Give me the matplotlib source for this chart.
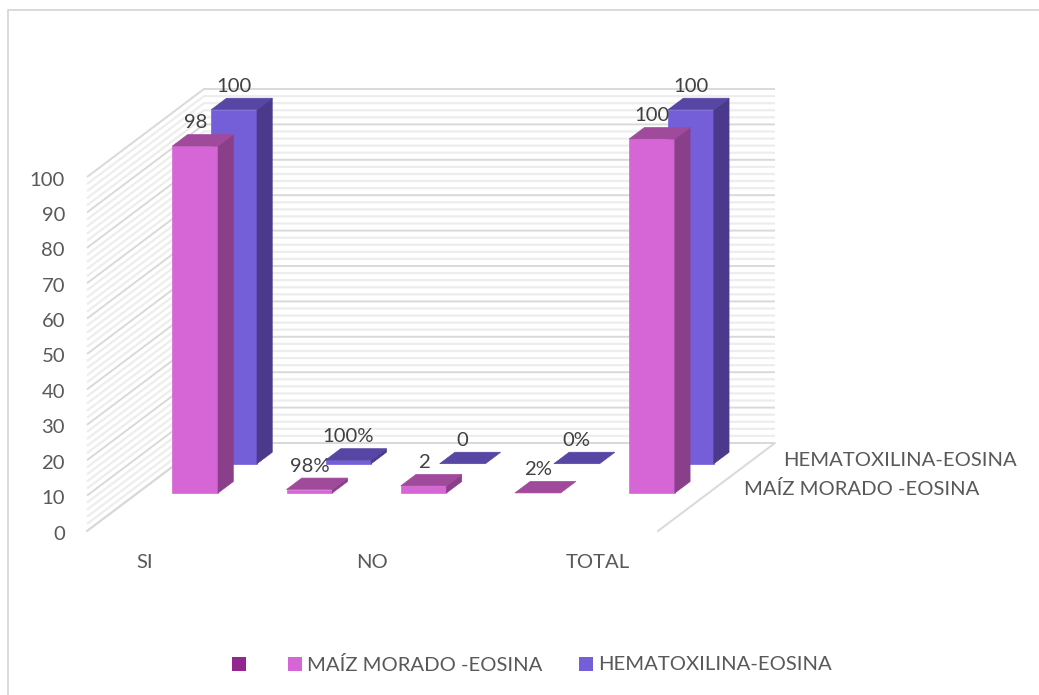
"""
Grafico de barras 3D: MAIZ MORADO vs HEMATOXILINA (estilo Excel)
"""
import matplotlib
matplotlib.use('Agg')
import matplotlib.pyplot as plt
from matplotlib.patches import Polygon, Rectangle

categories = ['SI', '', 'NO', '', 'TOTAL']
series_names = ['MAÍZ MORADO -EOSINA', 'HEMATOXILINA-EOSINA']
maiz_values = [98, 0.98, 2, 0.02, 100]
hema_values = [100, 1, 0, 0, 100]
maiz_labels = ['98', '98%', '2', '2%', '100']
hema_labels = ['100', '100%', '0', '0%', '100']
y_ticks = list(range(0, 101, 10))
minor_ticks = list(range(0, 101, 2))

plt.rcParams['font.family'] = ['Lato', 'DejaVu Sans']

# Origen de la proyeccion, en pixeles
X0, Y0 = 87, 531
CAT_W = 114.2
DEPTH_X, DEPTH_Y = 117, 88
UNIT_Y = 3.54
BAR_W = 0.4
BAR_D = 0.13
GAP = 0.305
MAIZ_D, HEMA_D = 0.432, 0.765
FS = 14.6


def project(cat, depth, value):
    return (X0 + cat * CAT_W + depth * DEPTH_X,
            Y0 - depth * DEPTH_Y - value * UNIT_Y)


def draw_bar(ax, i, value, depth, front, side, top):
    c0, c1 = i + GAP, i + GAP + BAR_W
    d1 = depth + BAR_D
    if value > 0.05:
        ax.add_patch(Polygon([project(c0, depth, 0), project(c1, depth, 0),
                              project(c1, depth, value), project(c0, depth, value)],
                             fc=front, ec=front, lw=0.5, zorder=3))
        ax.add_patch(Polygon([project(c1, depth, 0), project(c1, d1, 0),
                              project(c1, d1, value), project(c1, depth, value)],
                             fc=side, ec=side, lw=0.5, zorder=3))
    ax.add_patch(Polygon([project(c0, depth, value), project(c1, depth, value),
                          project(c1, d1, value), project(c0, d1, value)],
                         fc=top, ec=top, lw=0.5, zorder=3))


fig = plt.figure(figsize=(10.39, 6.95), dpi=100)
ax = fig.add_axes([0, 0, 1, 1])
ax.set_xlim(0, 1039)
ax.set_ylim(695, 0)
ax.axis('off')

# marco
ax.plot([1039, 7.5, 7.5], [9.5, 9.5, 695], color='#D9D9D9', lw=1.4, zorder=1)

n = len(categories)

# paredes: lineas menores y mayores
for v in minor_ticks:
    major = v % 10 == 0
    col = '#D9D9D9' if major else '#EDEDED'
    lw = 1.4 if major else 1.6
    z = 1.2 if major else 1.1
    xs, ys = zip(project(0, 0, v), project(0, 1, v), project(n, 1, v))
    ax.plot(xs, ys, color=col, lw=lw, zorder=z, solid_capstyle='butt')

# piso
xs, ys = zip(project(0, 0, 0), project(0, 1, 0), project(n, 1, 0), project(n, 0, 0))
ax.plot(xs, ys, color='#D9D9D9', lw=1.4, zorder=1.2)

# barras, de atras hacia adelante
for i in range(n):
    draw_bar(ax, i, hema_values[i], HEMA_D, '#745FD9', '#4B3A8C', '#5746A3')
for i in range(n):
    draw_bar(ax, i, maiz_values[i], MAIZ_D, '#D666D6', '#8A3F8A', '#A04A9C')

# etiquetas de datos
for i in range(n):
    for vals, labs, depth in [(hema_values, hema_labels, HEMA_D), (maiz_values, maiz_labels, MAIZ_D)]:
        x = project(i + GAP + BAR_W / 2, depth, 0)[0]
        y = project(i, depth + BAR_D, vals[i])[1]
        ax.text(x, y - 12, labs[i], ha='center', va='center', fontsize=FS,
                color='#404040', zorder=5)

# eje y
for v in y_ticks:
    x, y = project(0, 0, v)
    ax.text(65, y + 3, str(v), ha='right', va='center', fontsize=FS, color='#595959')

# eje x
label_dx = [1, 0, 0, 0, -3]
for i, cat in enumerate(categories):
    if cat:
        x = project(i + 0.5, 0, 0)[0] + label_dx[i]
        ax.text(x, 562, cat, ha='center', va='center', fontsize=FS, color='#595959')

# eje de series
ax.text(783, 460, series_names[1], ha='left', va='center', fontsize=FS, color='#595959')
ax.text(744, 489, series_names[0], ha='left', va='center', fontsize=FS, color='#595959')

# leyenda
for x, col, lab in [(232, '#93278F', ''), (288, '#D666D6', series_names[0]),
                    (579, '#745FD9', series_names[1])]:
    ax.add_patch(Rectangle((x, 657), 14, 14, fc=col, ec='none'))
    if lab:
        ax.text(x + 19, 665, lab, ha='left', va='center', fontsize=FS, color='#595959')

plt.savefig('out.png', dpi=100)
plt.close()
